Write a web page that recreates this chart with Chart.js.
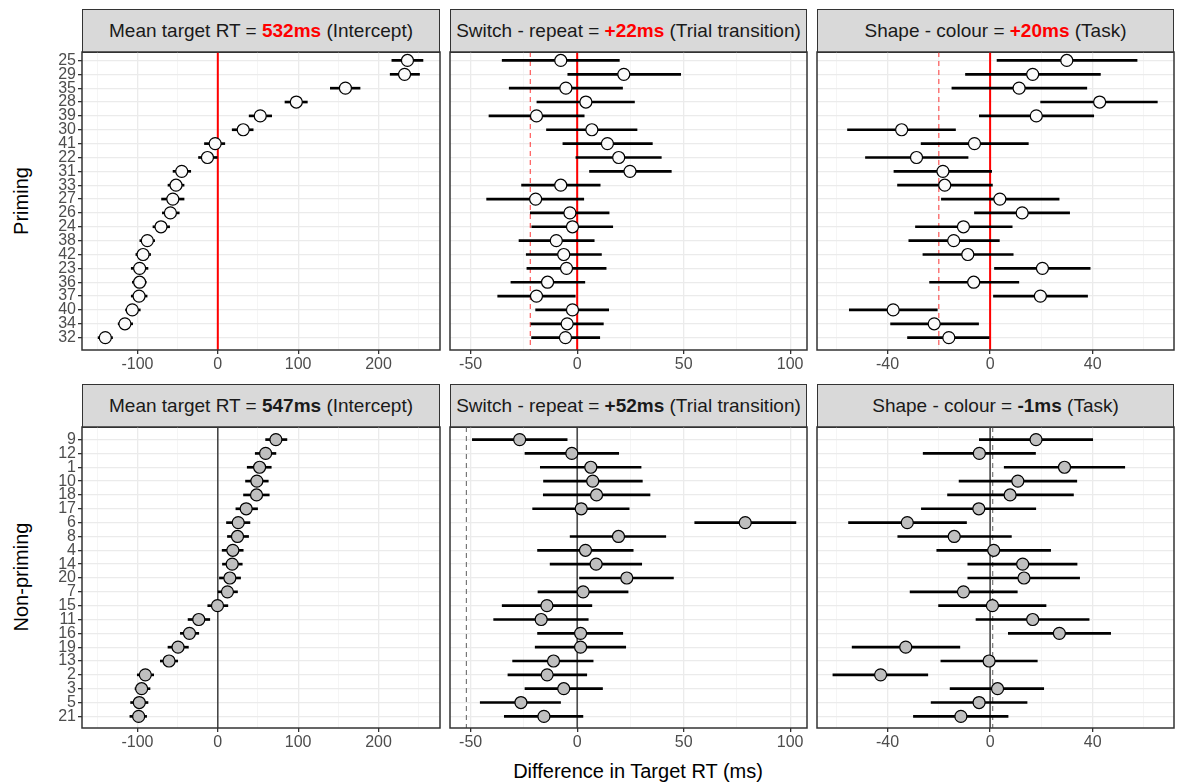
<!DOCTYPE html>
<html>
<head>
<meta charset="utf-8">
<script src="https://cdn.jsdelivr.net/npm/chart.js@4.4.1/dist/chart.umd.min.js"></script>
<style>
body { margin:0; background:#fff; width:1177px; height:782px; position:relative; overflow:hidden; font-family:"Liberation Sans", Arial, sans-serif; }
.panel { position:absolute; }
.strip { position:absolute; box-sizing:border-box; background:#d9d9d9; border:1.5px solid #333; color:#1a1a1a; font-size:19px; display:flex; align-items:center; justify-content:center; }
.strip span { white-space:pre; }
.strip b.rojo { color:#ff0000; }
.fila { position:absolute; font-size:20px; color:#000; transform:translate(-50%,-50%) rotate(-90deg); white-space:nowrap; }
#tituloX { position:absolute; font-size:20px; color:#000; transform:translateX(-50%); white-space:nowrap; }
</style>
</head>
<body>
<div class="fila" style="left:21px; top:201px;">Priming</div>
<div class="fila" style="left:21px; top:577px;">Non-priming</div>
<div id="tituloX" style="left:638px; top:760px;">Difference in Target RT (ms)</div>
<script>
// Participantes (de arriba hacia abajo)
const idsPriming = [25, 29, 35, 28, 39, 30, 41, 22, 31, 33, 27, 26, 24, 38, 42, 23, 36, 37, 40, 34, 32];
const idsNoPriming = [9, 12, 1, 10, 18, 17, 6, 8, 4, 14, 20, 7, 15, 11, 16, 19, 13, 2, 3, 5, 21];

// Priming - intercepto
const primInter = [236, 232.4, 158.8, 97.7, 52.8, 31.6, -3.3, -12.9, -44.9, -52, -56, -59, -70.7, -87.7, -93, -97.3, -97.3, -98, -106.4, -115.6, -140];
const primInterLo = [216.6, 214.5, 140, 83.6, 39, 17.9, -16.6, -24, -55.7, -62, -70, -69, -80.7, -97, -102, -107.7, -106.4, -107.7, -114.8, -124, -149];
const primInterHi = [255.3, 251, 177, 111.4, 67, 44, 8.7, -0.8, -33.7, -42, -42, -48, -60, -78.6, -83.6, -86.9, -89, -88, -96.5, -106, -131];

// Priming - switch vs repeat
const primSwitch = [-7.7, 21.9, -5.3, 4.1, -19.1, 6.9, 14.2, 19.5, 24.8, -7.7, -19.5, -3.4, -2.2, -9.8, -6.3, -5, -13.9, -19.1, -2.2, -4.7, -5.5];
const primSwitchLo = [-35.2, -4.4, -31.9, -18.9, -41.4, -14.4, -6.7, -0.6, 5.8, -26.1, -42.5, -22, -21.3, -27.3, -23.9, -23.6, -31.1, -37.3, -19.5, -21.7, -21.4];
const primSwitchHi = [19.8, 48.6, 21.3, 26.9, 3.3, 28.1, 35.3, 39.5, 44.2, 10.8, 3.1, 15, 16.7, 8, 11.4, 13.6, 3.6, -0.9, 14.8, 12.3, 10.6];

// Priming - shape vs colour
const primTask = [29.9, 16.6, 11.3, 42.7, 18, -34.5, -6.1, -28.7, -18.4, -17.7, 3.8, 12.5, -10.4, -14.2, -8.7, 20.4, -6.4, 19.6, -37.8, -21.8, -16.1];
const primTaskLo = [2.7, -9.6, -14.9, 19.7, -4.2, -55.6, -26.9, -48.6, -37.5, -36.1, -19, -6.1, -29.1, -31.7, -26.2, 1.7, -23.6, 1.3, -54.9, -38.8, -32.2];
const primTaskHi = [57.3, 43, 37.7, 65.2, 40.4, -13.5, 14.9, -8.6, 0.6, 0.9, 26.9, 31, 8.6, 3.6, 9, 39, 11.2, 38, -20.6, -4.5, -0.4];

// Non-priming - intercepto
const noInter = [72.3, 59.5, 52, 48.6, 48.2, 35.3, 25.4, 24.5, 18.7, 17.9, 15, 12, -0.4, -23.7, -35.3, -49.5, -60.7, -90.2, -94.8, -97.7, -98.5];
const noInterLo = [59.5, 46.6, 36.6, 34.5, 32, 22.5, 10.8, 12, 5.4, 5.8, 2, 0.4, -12.5, -37, -46.6, -62, -71.5, -100.2, -103, -108.5, -109.4];
const noInterHi = [86, 72.3, 66.5, 62.8, 64, 49.5, 40, 38.3, 31.6, 30.4, 28.3, 24.5, 12.5, -10, -23.7, -36.6, -49.9, -79.8, -84.4, -86.9, -88.6];

// Non-priming - switch vs repeat
const noSwitch = [-27, -2.5, 6.4, 7.3, 9.1, 1.9, 78.9, 19.4, 3.9, 8.9, 23.3, 2.8, -14.2, -16.9, 1.6, 1.6, -11.1, -14.1, -6.3, -26.4, -15.6];
const noSwitchLo = [-49.2, -24.5, -17.3, -15.8, -15.9, -20.9, 55.2, -3.3, -18.6, -12.7, 1.1, -18.4, -35.2, -39.2, -18.6, -19.7, -30.3, -32.5, -24.5, -45.5, -34.2];
const noSwitchHi = [-4.7, 19.5, 30, 30.6, 34.2, 24.4, 102.7, 41.6, 26.3, 30.3, 45.2, 23.9, 6.9, 5.2, 21.4, 22.8, 7.5, 4.5, 11.9, -7.8, 2.7];

// Non-priming - shape vs colour
const noTask = [17.9, -4.2, 29, 10.8, 7.8, -4.4, -32.3, -14, 1.4, 12.7, 13.2, -10.4, 0.9, 16.6, 27, -32.9, -0.4, -42.7, 2.9, -4.3, -11.4];
const noTaskLo = [-4.2, -26.1, 5.5, -12.1, -16.6, -26.8, -55.2, -36, -20.8, -8.7, -8.7, -31.2, -20.1, -5.5, 7.1, -53.8, -19.2, -61.3, -15.6, -23, -29.9];
const noTaskHi = [40, 17.7, 52.5, 33.8, 32.5, 17.8, -9.2, 8.3, 23.6, 33.9, 34.9, 10.6, 21.8, 38.6, 47, -11.8, 18.4, -24.3, 20.9, 14.4, 7];

// Efectos fijos (lineas discontinuas en -efecto)
const efectoPrim = [22, 20];
const efectoNoPrim = [52, -1];

// Ticks del eje x por columna
const ticksInter = [-100, 0, 100, 200], menoresInter = [-150, -50, 50, 150, 250];
const ticksSwitch = [-50, 0, 50, 100], menoresSwitch = [-25, 25, 75];
const ticksTask = [-40, 0, 40], menoresTask = [-60, -20, 20, 60];

// Textos de las tiras
const tiras = [
    ['Mean target RT = ', '532ms', ' (Intercept)'],
    ['Switch - repeat = ', '+22ms', ' (Trial transition)'],
    ['Shape - colour = ', '+20ms', ' (Task)'],
    ['Mean target RT = ', '547ms', ' (Intercept)'],
    ['Switch - repeat = ', '+52ms', ' (Trial transition)'],
    ['Shape - colour = ', '-1ms', ' (Task)']
];

Chart.defaults.font.family = '"Liberation Sans", Arial, sans-serif';

const columnas = [
    { l: 82, r: 440, min: -169, max: 276.5, mayores: ticksInter, menores: menoresInter },
    { l: 450, r: 807, min: -59.7, max: 107.9, mayores: ticksSwitch, menores: menoresSwitch },
    { l: 817, r: 1174, min: -67.5, max: 71.7, mayores: ticksTask, menores: menoresTask }
];
const filas = [
    { st: 9, t: 52, b: 350, min: -0.61, max: 20.89, ids: idsPriming, relleno: '#fafafa', linea: '#ff0000', guion: 'rgba(255,0,0,0.65)', rojo: true },
    { st: 384, t: 427, b: 728, min: -0.91, max: 20.84, ids: idsNoPriming, relleno: '#bfbfbf', linea: '#333333', guion: '#777777', rojo: false }
];

const paneles = [
    { f: 0, c: 0, m: primInter, lo: primInterLo, hi: primInterHi, efecto: null },
    { f: 0, c: 1, m: primSwitch, lo: primSwitchLo, hi: primSwitchHi, efecto: efectoPrim[0] },
    { f: 0, c: 2, m: primTask, lo: primTaskLo, hi: primTaskHi, efecto: efectoPrim[1] },
    { f: 1, c: 0, m: noInter, lo: noInterLo, hi: noInterHi, efecto: null },
    { f: 1, c: 1, m: noSwitch, lo: noSwitchLo, hi: noSwitchHi, efecto: efectoNoPrim[0] },
    { f: 1, c: 2, m: noTask, lo: noTaskLo, hi: noTaskHi, efecto: efectoNoPrim[1] }
];

// Borde del panel estilo ggplot
const bordePanel = {
    id: 'bordePanel',
    afterDraw(chart) {
        const { ctx, chartArea: a } = chart;
        ctx.save();
        ctx.strokeStyle = '#333333';
        ctx.lineWidth = 1.5;
        ctx.strokeRect(a.left, a.top, a.right - a.left, a.bottom - a.top);
        ctx.restore();
    }
};

function dibujarPanel(p, k) {
    const col = columnas[p.c], fila = filas[p.f];
    const yw = p.c === 0 ? 52 : 4, xh = 28, pad = 2;

    // tira superior
    const tira = document.createElement('div');
    tira.className = 'strip';
    tira.style.left = col.l + 'px';
    tira.style.top = fila.st + 'px';
    tira.style.width = (col.r - col.l) + 'px';
    tira.style.height = (fila.t - fila.st + 1) + 'px';
    const t = tiras[k];
    tira.innerHTML = `<span>${t[0]}<b class="${fila.rojo ? 'rojo' : ''}">${t[1]}</b>${t[2]}</span>`;
    document.body.appendChild(tira);

    const canvas = document.createElement('canvas');
    canvas.className = 'panel';
    canvas.width = (col.r - col.l) + yw + pad;
    canvas.height = (fila.b - fila.t) + pad + xh;
    canvas.style.left = (col.l - yw) + 'px';
    canvas.style.top = (fila.t - pad) + 'px';
    document.body.appendChild(canvas);

    const refs = [{ v: 0, color: fila.linea, w: fila.rojo ? 2 : 1.4, dash: [] }];
    if (p.efecto !== null) refs.unshift({ v: -p.efecto, color: fila.guion, w: 1.2, dash: [5, 4] });

    const filasIdx = fila.ids.map((_, i) => i);
    const esMayor = v => col.mayores.includes(v);

    new Chart(canvas, {
        type: 'bar',
        data: {
            datasets: [
                ...refs.map(r => ({
                    type: 'line',
                    data: [{ x: r.v, y: fila.min }, { x: r.v, y: fila.max }],
                    borderColor: r.color,
                    borderWidth: r.w,
                    borderDash: r.dash,
                    pointRadius: 0,
                    order: 3
                })),
                {
                    type: 'bar',
                    data: p.lo.map((v, i) => ({ y: i, x: [v, p.hi[i]] })),
                    backgroundColor: '#000',
                    barThickness: 2,
                    grouped: false,
                    order: 2
                },
                {
                    type: 'line',
                    data: p.m.map((v, i) => ({ x: v, y: i })),
                    showLine: false,
                    pointRadius: 6,
                    pointHoverRadius: 6,
                    pointBackgroundColor: fila.relleno,
                    pointBorderColor: '#000',
                    pointBorderWidth: 1.2,
                    order: 1
                }
            ]
        },
        options: {
            indexAxis: 'y',
            responsive: false,
            animation: false,
            devicePixelRatio: 1,
            layout: { autoPadding: false, padding: { top: pad, right: pad, left: 0, bottom: 0 } },
            plugins: { legend: { display: false }, tooltip: { enabled: false } },
            scales: {
                x: {
                    type: 'linear',
                    min: col.min,
                    max: col.max,
                    afterBuildTicks: s => { s.ticks = [...col.mayores, ...col.menores].sort((a, b) => a - b).map(v => ({ value: v })); },
                    afterFit: s => { s.height = xh; s.paddingLeft = 0; s.paddingRight = 0; },
                    ticks: {
                        autoSkip: false,
                        maxRotation: 0,
                        padding: 1,
                        color: '#4d4d4d',
                        font: { size: 16 },
                        callback: v => esMayor(v) ? v : ''
                    },
                    grid: {
                        color: ctx => esMayor(ctx.tick.value) ? '#ebebeb' : '#f3f3f3',
                        lineWidth: ctx => esMayor(ctx.tick.value) ? 1.3 : 0.8,
                        tickLength: 4,
                        tickColor: ctx => esMayor(ctx.tick.value) ? '#333333' : 'rgba(0,0,0,0)',
                        tickWidth: 1.3
                    },
                    border: { display: false }
                },
                y: {
                    type: 'linear',
                    reverse: true,
                    offset: false,
                    min: fila.min,
                    max: fila.max,
                    afterBuildTicks: s => { s.ticks = filasIdx.map(v => ({ value: v })); },
                    afterFit: s => { s.width = yw; s.paddingTop = 0; s.paddingBottom = 0; },
                    ticks: {
                        display: p.c === 0,
                        autoSkip: false,
                        padding: 2,
                        color: '#4d4d4d',
                        font: { size: 16 },
                        callback: v => fila.ids[v]
                    },
                    grid: {
                        offset: false,
                        color: '#ebebeb',
                        lineWidth: 1.3,
                        drawTicks: p.c === 0,
                        tickLength: 4,
                        tickColor: '#333333',
                        tickWidth: 1.3
                    },
                    border: { display: false }
                }
            }
        },
        plugins: [bordePanel]
    });
}

paneles.forEach((p, k) => dibujarPanel(p, k));
</script>
</body>
</html>
